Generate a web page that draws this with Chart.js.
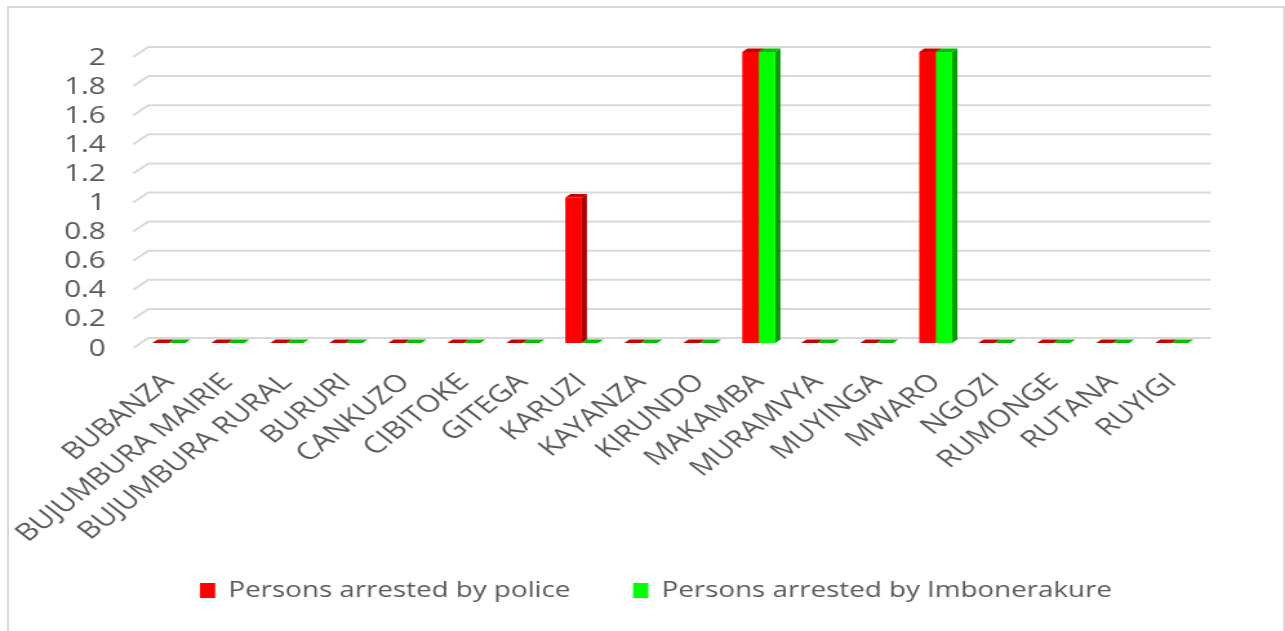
<!DOCTYPE html>
<html>
<head>
<meta charset="utf-8">
<script src="https://cdn.jsdelivr.net/npm/chart.js@4"></script>
<style>
  html, body { margin: 0; padding: 0; background: #fff; overflow: hidden; }
  #frame { position: absolute; left: 7px; top: 6px; width: 1274px; height: 700px; border: 2px solid #d9d9d9; }
  #wrap { position: absolute; left: 0; top: 0; width: 996px; height: 631px; transform: scaleX(1.2902); transform-origin: 0 0; }
</style>
</head>
<body>
<div id="frame"></div>
<div id="wrap"><canvas id="chart"></canvas></div>
<script>
const provinces = ['BUBANZA', 'BUJUMBURA MAIRIE', 'BUJUMBURA RURAL', 'BURURI', 'CANKUZO', 'CIBITOKE',
  'GITEGA', 'KARUZI', 'KAYANZA', 'KIRUNDO', 'MAKAMBA', 'MURAMVYA', 'MUYINGA', 'MWARO', 'NGOZI',
  'RUMONGE', 'RUTANA', 'RUYIGI']
const byPolice = [0, 0, 0, 0, 0, 0, 0, 1, 0, 0, 2, 0, 0, 2, 0, 0, 0, 0]
const byImbonerakure = [0, 0, 0, 0, 0, 0, 0, 0, 0, 0, 2, 0, 0, 2, 0, 0, 0, 0]
const yTickLabels = ['0', '0.2', '0.4', '0.6', '0.8', '1', '1.2', '1.4', '1.6', '1.8', '2']

const textColor = '#595959'
const gridColor = '#d9d9d9'
const fontFamily = "'Open Sans', Lato, sans-serif"

// depth of the fake 3d bars (canvas px, x is stretched by the css transform)
const dx = 4
const dy = -3.5

// back wall grid + top / side faces of the bars, drawn before the front faces
const depth3d = {
  id: 'depth3d',
  beforeDatasetsDraw(chart) {
    const ctx = chart.ctx
    const y = chart.scales.y
    const a = chart.chartArea
    ctx.save()
    ctx.strokeStyle = gridColor
    ctx.lineWidth = 2
    y.ticks.forEach(t => {
      const py = y.getPixelForValue(t.value)
      ctx.beginPath()
      ctx.moveTo(a.left - 4.7, py + 5)
      ctx.lineTo(a.left + 7, py - 5)
      ctx.lineTo(a.right + 7.5, py - 5)
      ctx.stroke()
    })

    const n = chart.data.labels.length
    for (let k = 0; k < n; k++) {
      chart.data.datasets.forEach((ds, i) => {
        const bar = chart.getDatasetMeta(i).data[k]
        const { x, y: top, base, width } = bar.getProps(['x', 'y', 'base', 'width'], true)
        const l = x - width / 2
        const r = x + width / 2
        ctx.fillStyle = ds.sideColor
        ctx.beginPath()
        ctx.moveTo(r, top)
        ctx.lineTo(r + dx, top + dy)
        ctx.lineTo(r + dx, base + dy)
        ctx.lineTo(r, base)
        ctx.closePath()
        ctx.fill()
        ctx.fillStyle = ds.topColor
        ctx.beginPath()
        ctx.moveTo(l, top)
        ctx.lineTo(l + dx, top + dy)
        ctx.lineTo(r + dx, top + dy)
        ctx.lineTo(r, top)
        ctx.closePath()
        ctx.fill()
      })
    }
    ctx.restore()
  }
}

// legend under the axis labels
const bottomLegend = {
  id: 'bottomLegend',
  afterDraw(chart) {
    const ctx = chart.ctx
    const spots = [155, 490.7]
    ctx.save()
    ctx.font = '21.5px ' + fontFamily
    ctx.textBaseline = 'middle'
    ctx.textAlign = 'left'
    chart.data.datasets.forEach((ds, i) => {
      const x = spots[i]
      ctx.fillStyle = ds.backgroundColor
      ctx.fillRect(x, 583, 11.8, 15)
      ctx.fillStyle = textColor
      ctx.fillText(ds.label, x + 22, 591)
    })
    ctx.restore()
  }
}

const ctx = document.getElementById('chart').getContext('2d')

const chart = new Chart(ctx, {
  type: 'bar',
  data: {
    labels: provinces,
    datasets: [{
      label: 'Persons arrested by police',
      data: byPolice,
      backgroundColor: '#ff0000',
      sideColor: '#a80000',
      topColor: '#c80000',
      categoryPercentage: 0.56,
      barPercentage: 1
    }, {
      label: 'Persons arrested by Imbonerakure',
      data: byImbonerakure,
      backgroundColor: '#00ff00',
      sideColor: '#009a00',
      topColor: '#00c000',
      categoryPercentage: 0.56,
      barPercentage: 1
    }]
  },
  options: {
    responsive: true,
    maintainAspectRatio: false,
    animation: false,
    layout: { padding: { top: 52, right: 65, left: 0, bottom: 0 } },
    scales: {
      x: {
        grid: { display: false },
        border: { display: false },
        ticks: {
          color: textColor,
          font: { family: fontFamily, size: 24 },
          minRotation: 45,
          maxRotation: 45,
          autoSkip: false,
          padding: 17
        },
        afterFit(scale) { scale.height = 288 }
      },
      y: {
        min: 0,
        max: 2,
        grid: { display: false },
        border: { display: false },
        ticks: {
          stepSize: 0.2,
          autoSkip: false,
          color: textColor,
          font: { family: fontFamily, size: 23 },
          padding: 18,
          labelOffset: 6,
          callback: (v, i) => yTickLabels[i]
        },
        afterFit(scale) { scale.width = 108 }
      }
    },
    plugins: {
      legend: { display: false },
      tooltip: { enabled: false }
    }
  },
  plugins: [depth3d, bottomLegend]
})
</script>
</body>
</html>
